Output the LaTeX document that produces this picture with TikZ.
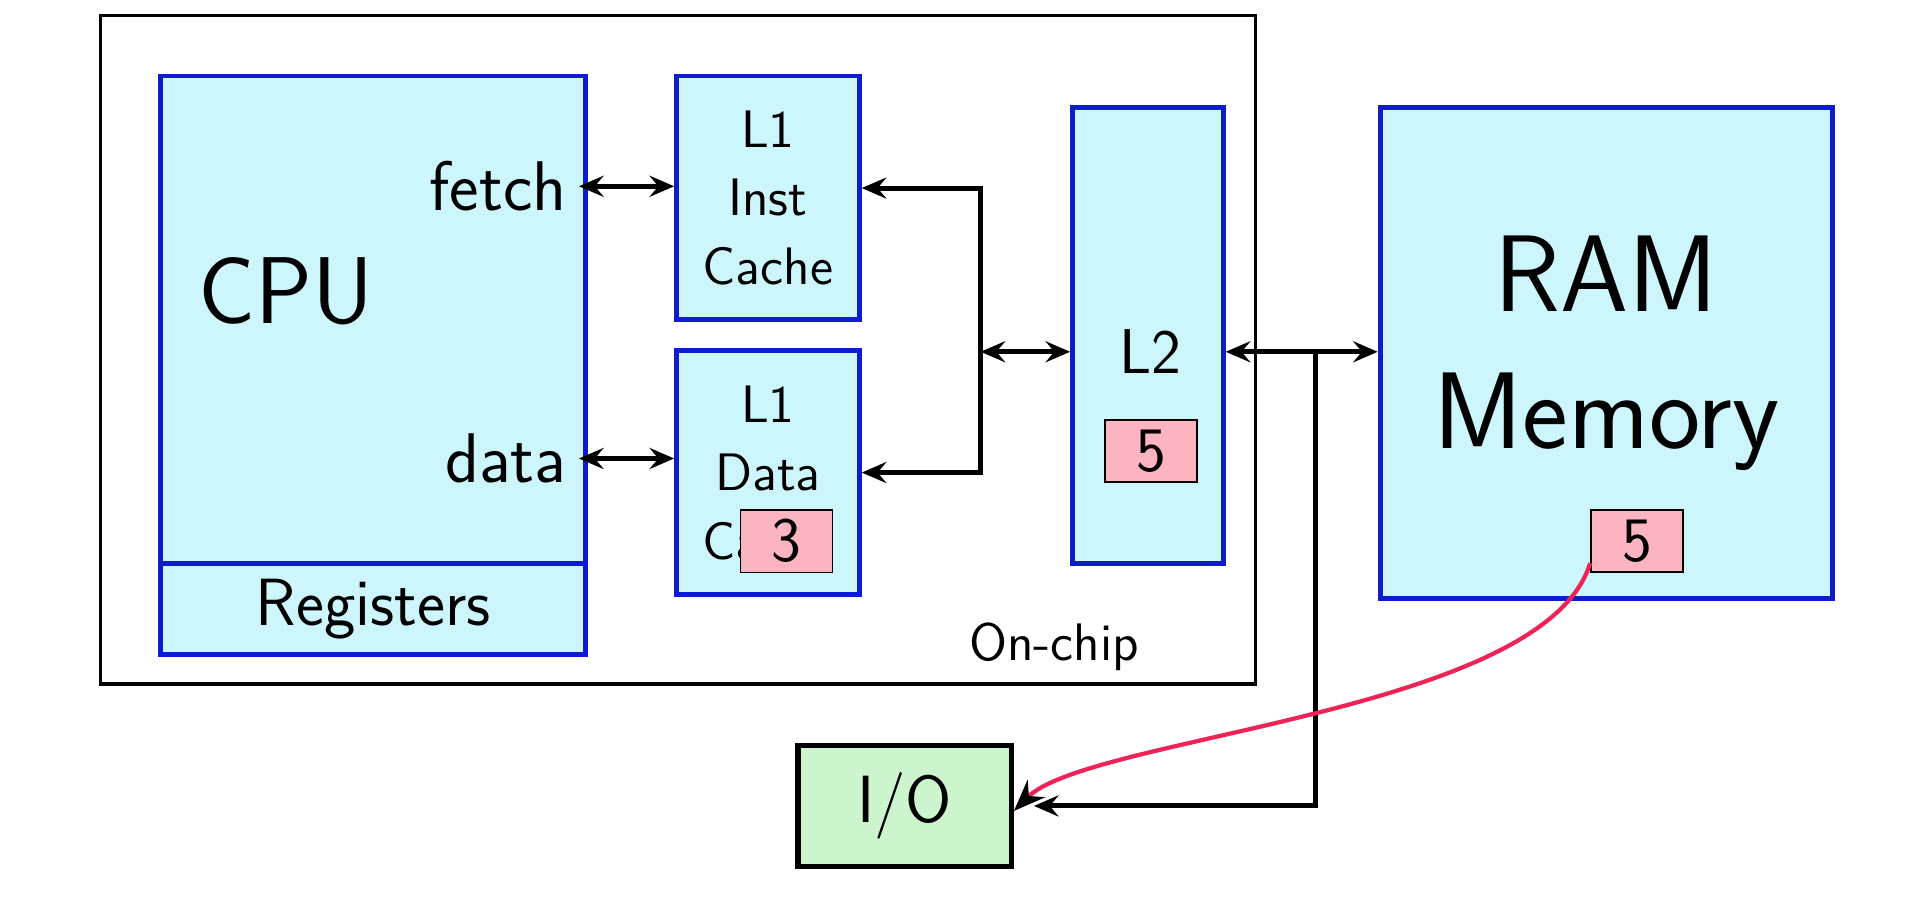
\documentclass[tikz,border=0pt]{standalone}
\usepackage{tikz}
\usetikzlibrary{arrows.meta}
\definecolor{cachefill}{RGB}{204,246,252}
\definecolor{unitblue}{RGB}{12,28,206}
\definecolor{tagpink}{RGB}{252,180,192}
\definecolor{iofill}{RGB}{204,245,206}
\definecolor{pathred}{RGB}{240,34,86}
\newcommand{\fsz}[2]{\fontsize{#1}{#2}\selectfont}

\begin{document}
\begin{tikzpicture}[x=1cm, y=1cm,
	every node/.style={font=\sffamily},
	unit/.style={draw=unitblue, fill=cachefill, line width=1.4pt, inner sep=0pt},
	tag/.style={draw=black, fill=tagpink, line width=0.5pt, minimum width=0.92cm, minimum height=0.625cm, inner sep=0pt, font=\sffamily\fsz{18}{18}},
	link/.style={line width=1.4pt, {Stealth[length=7pt,width=6pt,inset=2.5pt]}-{Stealth[length=7pt,width=6pt,inset=2.5pt]}},
	feed/.style={line width=1.4pt, -{Stealth[length=7pt,width=6pt,inset=2.5pt]}}]
	\useasboundingbox (0,0) rectangle (19.22,-9.22);
	%\draw[step=1cm, line width=0.1mm, black!20!white] (0,-9.22) grid (19.22,0);
	\node[draw, line width=0.9pt, minimum width=11.547cm, minimum height=6.681cm, inner sep=0pt] (chip) at (6.7785,-3.4995) {};
	\node[font=\sffamily\fsz{15}{15}] (onchip) at (10.54,-6.47) {On-chip};
	\node[unit, minimum width=4.253cm, minimum height=4.879cm] (cpu) at (3.7325,-3.1995) {};
	\node[unit, minimum width=4.253cm, minimum height=0.907cm, font=\sffamily\fsz{19}{19}] (regs) at (3.7325,-6.0925) {Registers};
	\node[font=\sffamily\fsz{27}{27}] (cpulabel) at (2.856,-2.917) {CPU};
	\node[anchor=east, font=\sffamily\fsz{20}{20}] (fetch) at (5.79,-1.863) {fetch};
	\node[anchor=east, font=\sffamily\fsz{20}{20}] (data) at (5.79,-4.585) {data};
	\node[unit, minimum width=1.827cm, minimum height=2.439cm, align=center, font=\sffamily\fsz{15}{19.5}] (linst) at (7.6795,-1.9795) {L1\\Inst\\Cache};
	\node[unit, minimum width=1.827cm, minimum height=2.439cm, align=center, font=\sffamily\fsz{15}{19.5}] (ldata) at (7.6795,-4.7255) {L1\\Data\\Cache};
	\node[tag] (lthree) at (7.864,-5.412) {3};
	\node[unit, minimum width=1.507cm, minimum height=4.56cm] (ltwo) at (11.4795,-3.359) {};
	\node[font=\sffamily\fsz{18}{18}] (ltwolabel) at (11.50,-3.518) {L2};
	\node[tag] (ltwofive) at (11.51,-4.51) {5};
	\node[unit, minimum width=4.524cm, minimum height=4.903cm, align=center, font=\sffamily\fsz{31}{39}] (ram) at (16.064,-3.5305) {RAM\\Memory};
	\node[tag] (ramfive) at (16.37,-5.41) {5};
	\node[draw=black, fill=iofill, line width=1.5pt, minimum width=2.133cm, minimum height=1.213cm, font=\sffamily\fsz{19}{19}] (io) at (9.0465,-8.0595) {I/O};
	\coordinate (bus) at (9.806,-3.518);
	\coordinate (split) at (13.153,-3.518);
	\draw[link] (fetch.east) -- (fetch.east -| linst.west);
	\draw[link] (data.east) -- (data.east -| ldata.west);
	\draw[link] (linst.6) -| (bus) |- (ldata.east);
	\draw[link] (bus) -- (bus -| ltwo.west);
	\draw[link] (bus -| ltwo.east) -- (bus -| ram.west);
	\draw[feed, shorten >=0.2cm] (split) |- (io.east);
	\draw[pathred, line width=1.2pt, -{Stealth[black,length=9pt,width=7pt,inset=3pt]}] ([yshift=1mm]ramfive.south west) .. controls +(-0.45,-1.5) and +(0.75,0.75) .. ([yshift=-0.5mm]io.east);
\end{tikzpicture}
\end{document}
